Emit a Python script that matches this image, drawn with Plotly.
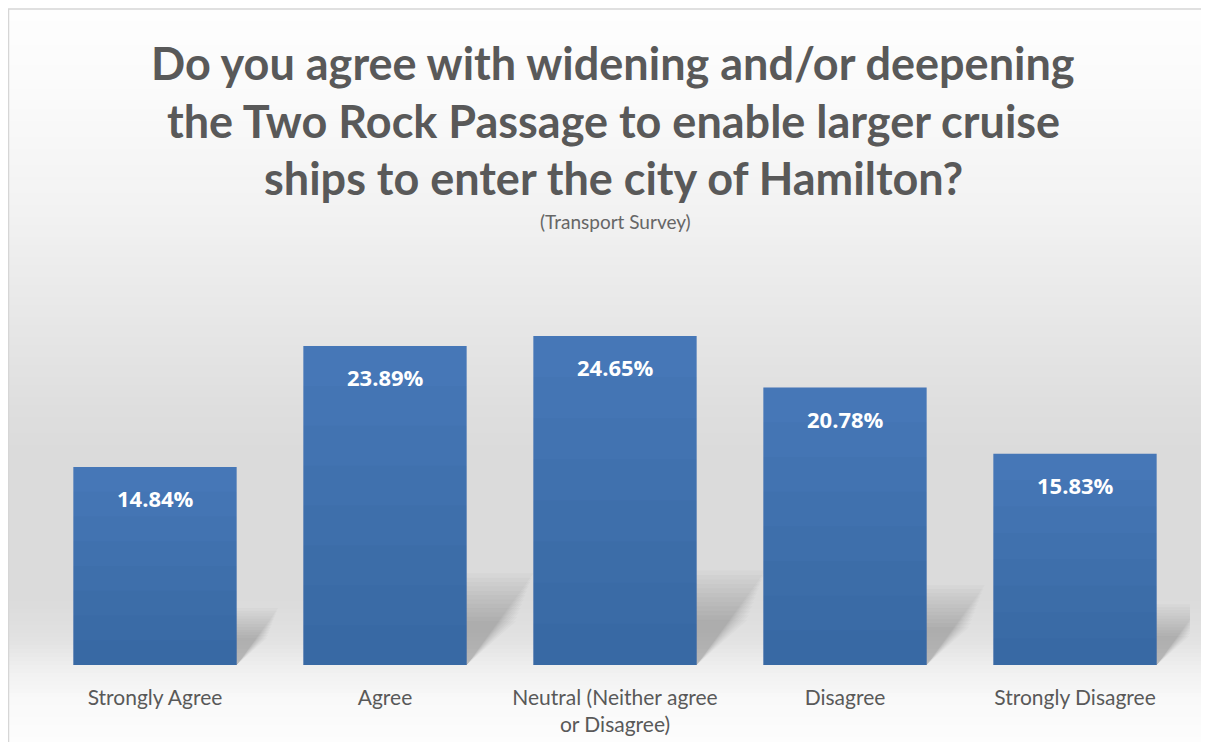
import plotly.graph_objects as go

categories = ["Strongly Agree", "Agree", "Neutral (Neither agree or Disagree)", "Disagree", "Strongly Disagree"]
tick_labels = ["Strongly Agree", "Agree", "Neutral (Neither agree<br>or Disagree)", "Disagree", "Strongly Disagree"]
values = [14.84, 23.89, 24.65, 20.78, 15.83]
value_labels = ["14.84%", "23.89%", "24.65%", "20.78%", "15.83%"]

title_lines = ["Do you agree with widening and/or deepening",
               "the Two Rock Passage to enable larger cruise",
               "ships to enter the city of Hamilton?"]
subtitle = "(Transport Survey)"

# page has an 8px body margin -> figure is drawn 8px in from the window edge
OFF = 8
W, H = 1209 - 2 * OFF, 750 - 2 * OFF
ML, MR, MT, MB = 32, 11, 242, 77
PW = W - ML - MR
PH = H - MT - MB
YMAX = 31.09

TITLE_FONT = "Lato, Open Sans, sans-serif"
TEXT_FONT = "Lato, Open Sans, sans-serif"
GRAY = "#595959"
BAR = "#4879ba"


def rx(px):  # window x pixel -> paper x
    return (px - OFF - ML) / PW


def ry(py):  # window y pixel -> paper y
    return (H - MB - (py - OFF)) / PH


fig = go.Figure()
fig.add_trace(go.Bar(
    x=list(range(len(categories))), y=values,
    marker=dict(color=BAR, line=dict(width=0)),
    hovertext=categories, showlegend=False,
))

shapes = []
# background gradient (styling), stops in window pixels
stops = [(9, 254), (100, 250), (200, 243), (300, 233), (400, 223), (450, 219),
         (600, 219), (640, 226), (670, 240), (700, 249), (750, 254)]


def gray_at(py):
    for (a, ga), (b, gb) in zip(stops, stops[1:]):
        if a <= py <= b:
            t = (py - a) / (b - a)
            return round(ga + (gb - ga) * t)
    return 255


step = 4
py = 9
while py < 750:
    g = gray_at(py + step / 2)
    shapes.append(dict(type="rect", xref="paper", yref="paper",
                       x0=rx(OFF), x1=rx(1209 + 4),
                       y0=ry(py + step + 0.5), y1=ry(py),
                       fillcolor=f"rgb({g},{g},{g})", line=dict(width=0), layer="below"))
    py += step
# frame border
shapes.append(dict(type="line", xref="paper", yref="paper", x0=rx(8.5), x1=rx(8.5),
                   y0=ry(9), y1=ry(752), line=dict(color="#d6d6d6", width=1.5), layer="below"))
shapes.append(dict(type="line", xref="paper", yref="paper", x0=rx(8), x1=rx(1212),
                   y0=ry(9), y1=ry(9), line=dict(color="#d6d6d6", width=1.5), layer="below"))

# soft perspective shadows behind bars (styling, scaled from each bar's value)
half = 0.355
px_per_unit = PH / YMAX
n_layers = 12
for i, v in enumerate(values):
    for k in range(n_layers):
        f = 0.55 + 0.6 * k / (n_layers - 1)
        h = 0.25 * v * f
        d = 0.73 * 0.25 * v * px_per_unit / (PW / len(categories)) * (0.85 + 0.3 * k / (n_layers - 1))
        path = f"M {i-half},0 L {i+half},0 L {i+half+d},{h} L {i-half+d},{h} Z"
        shapes.append(dict(type="path", xref="x", yref="y", path=path,
                           fillcolor="rgba(60,60,60,0.022)", line=dict(width=0), layer="below"))

# subtle vertical shading on the bars (darker toward the base)
n_shade = 8
for i, v in enumerate(values):
    for k in range(1, n_shade + 1):
        shapes.append(dict(type="rect", xref="x", yref="y",
                           x0=i - half, x1=i + half, y0=0, y1=v * k / n_shade,
                           fillcolor="rgba(20,45,90,0.022)", line=dict(width=0), layer="above"))

annotations = []
for i, (v, lab) in enumerate(zip(values, value_labels)):
    annotations.append(dict(x=i, y=v, xref="x", yref="y", text=f"<b>{lab}</b>", showarrow=False,
                            yanchor="middle", yshift=-31,
                            font=dict(family="Open Sans, sans-serif", size=22, color="white")))
for line, cy in zip(title_lines, [63, 121, 178]):
    annotations.append(dict(x=rx(613), y=ry(cy), xref="paper", yref="paper", xanchor="center",
                            yanchor="middle", text=f"<b>{line}</b>", showarrow=False,
                            font=dict(family=TITLE_FONT, size=45, color=GRAY)))
annotations.append(dict(x=rx(615), y=ry(222), xref="paper", yref="paper", xanchor="center",
                        yanchor="middle", text=subtitle, showarrow=False,
                        font=dict(family=TEXT_FONT, size=19, color="#666666")))

fig.update_layout(
    width=W, height=H,
    margin=dict(l=ML, r=MR, t=MT, b=MB, autoexpand=False),
    paper_bgcolor="white", plot_bgcolor="rgba(0,0,0,0)",
    bargap=0.29,
    xaxis=dict(tickmode="array", tickvals=list(range(len(categories))), ticktext=tick_labels,
               range=[-0.5, len(categories) - 0.5], showgrid=False, zeroline=False, showline=False,
               ticks="", ticklabelstandoff=18, automargin=False,
               tickfont=dict(family=TEXT_FONT, size=21, color=GRAY)),
    yaxis=dict(range=[0, YMAX], visible=False, showgrid=False, zeroline=False, automargin=False),
    shapes=shapes, annotations=annotations,
)

fig.write_html("out.html")
